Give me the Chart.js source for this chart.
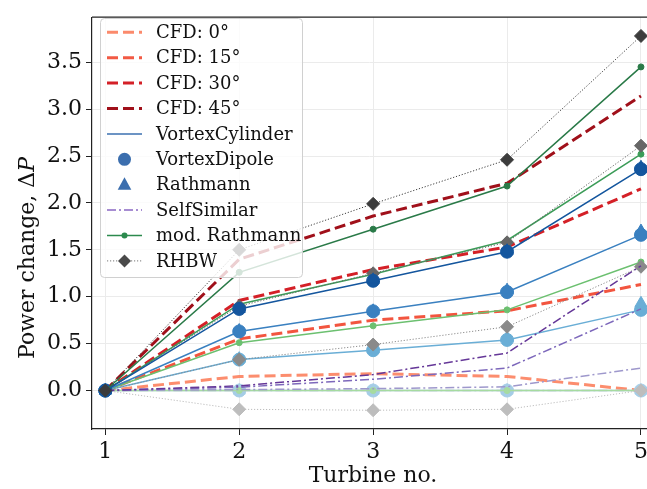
<!DOCTYPE html>
<html>
<head>
<meta charset="utf-8">
<script src="https://cdn.jsdelivr.net/npm/chart.js@4/dist/chart.umd.min.js"></script>
<style>
  html, body { margin: 0; padding: 0; overflow: hidden; background: #fff; }
</style>
</head>
<body>
<canvas id="chart" width="647" height="489"></canvas>
<script>
// turbine positions and tick labels
const turbines = [1, 2, 3, 4, 5];
const xTicks = [1, 2, 3, 4, 5];
const yTicks = [0.0, 0.5, 1.0, 1.5, 2.0, 2.5, 3.0, 3.5];
const yaws = [0, 15, 30, 45];

// one row per yaw angle (0, 15, 30, 45 deg), one value per turbine
const cfd = [
    [0, 0.15, 0.18, 0.15, 0.00],
    [0, 0.55, 0.75, 0.85, 1.13],
    [0, 0.96, 1.29, 1.53, 2.15],
    [0, 1.40, 1.86, 2.21, 3.14]
];
const vortexCylinder = [
    [0, 0, 0, 0, 0],
    [0, 0.33, 0.43, 0.54, 0.86],
    [0, 0.63, 0.845, 1.05, 1.66],
    [0, 0.87, 1.17, 1.48, 2.36]
];
const vortexDipole = [
    [0, 0, 0, 0, 0],
    [0, 0.33, 0.43, 0.54, 0.86],
    [0, 0.63, 0.845, 1.05, 1.66],
    [0, 0.87, 1.17, 1.48, 2.36]
];
const rathmann = [
    [0, 0, 0, 0, 0],
    [0, 0.34, 0.44, 0.56, 0.93],
    [0, 0.64, 0.85, 1.07, 1.70],
    [0, 0.87, 1.18, 1.49, 2.38]
];
const selfSimilar = [
    [0, 0, 0, 0, 0],
    [0, 0.01, 0.02, 0.04, 0.24],
    [0, 0.035, 0.12, 0.24, 0.87],
    [0, 0.05, 0.17, 0.40, 1.33]
];
const modRathmann = [
    [0, 0, 0, 0, 0],
    [0, 0.51, 0.69, 0.86, 1.37],
    [0, 0.92, 1.24, 1.60, 2.52],
    [0, 1.26, 1.72, 2.18, 3.45]
];
const rhbw = [
    [0, -0.20, -0.21, -0.20, 0.00],
    [0, 0.33, 0.49, 0.68, 1.32],
    [0, 0.90, 1.25, 1.58, 2.61],
    [0, 1.50, 1.99, 2.46, 3.78]
];

// colour shades per yaw (light -> dark)
const reds = ["#fc8d6e", "#f2553f", "#d42027", "#a0101a"];
const blues = ["#a6cde6", "#6aaed6", "#3a80c0", "#14569e"];
const purples = ["#bfbce0", "#9e98cc", "#7d68bb", "#653798"];
const greens = ["#a6dba0", "#6cc070", "#3c9c58", "#2a7a48"];
const greys = ["#bdbdbd", "#8a8a8a", "#666666", "#3c3c3c"];

const models = [
    {name: "CFD", values: cfd, colors: reds, width: 3, dash: [11, 5], showLine: true, pointStyle: "circle", radius: 0},
    {name: "VortexCylinder", values: vortexCylinder, colors: blues, width: 1.5, dash: [], showLine: true, pointStyle: "circle", radius: 0},
    {name: "VortexDipole", values: vortexDipole, colors: blues, width: 1.5, dash: [], showLine: false, pointStyle: "circle", radius: 6.5},
    {name: "Rathmann", values: rathmann, colors: blues, width: 1.5, dash: [], showLine: false, pointStyle: "triangle", radius: 7},
    {name: "SelfSimilar", values: selfSimilar, colors: purples, width: 1.5, dash: [9, 3, 2, 3], showLine: true, pointStyle: "circle", radius: 0},
    {name: "mod. Rathmann", values: modRathmann, colors: greens, width: 1.5, dash: [], showLine: true, pointStyle: "circle", radius: 3},
    {name: "RHBW", values: rhbw, colors: greys, width: 1, dash: [1.2, 1.8], showLine: true, pointStyle: "rectRot", radius: 6.5}
];

const datasets = [];
yaws.forEach((yaw, k) => {
    models.forEach(m => {
        datasets.push({
            label: m.name + " " + yaw,
            data: turbines.map((t, i) => ({x: t, y: m.values[k][i]})),
            borderColor: m.colors[k],
            backgroundColor: m.colors[k],
            borderWidth: m.width,
            borderDash: m.dash,
            showLine: m.showLine,
            pointStyle: m.pointStyle,
            pointRadius: m.radius,
            pointBorderWidth: 1,
            pointBorderColor: m.colors[k],
            pointBackgroundColor: m.colors[k],
            tension: 0,
            clip: 8
        });
    });
});
// later datasets drawn on top, like matplotlib
datasets.forEach((d, i) => d.order = datasets.length - i);

const legendItems = [
    {label: "CFD: 0°", type: "dash", color: "#fb8a6c"},
    {label: "CFD: 15°", type: "dash", color: "#f25a44"},
    {label: "CFD: 30°", type: "dash", color: "#d42027"},
    {label: "CFD: 45°", type: "dash", color: "#a0101a"},
    {label: "VortexCylinder", type: "line", color: "#3b70b0"},
    {label: "VortexDipole", type: "circle", color: "#3b6eae"},
    {label: "Rathmann", type: "triangle", color: "#3b6eae"},
    {label: "SelfSimilar", type: "dashdot", color: "#8a68c4"},
    {label: "mod. Rathmann", type: "lineDot", color: "#2c8a4e"},
    {label: "RHBW", type: "dotDiamond", color: "#4a4a4a"}
];

const FONT = '"DejaVu Serif", "Liberation Serif", serif';

function drawDiamond(c, x, y, r) {
    c.beginPath();
    c.moveTo(x, y - r); c.lineTo(x + r, y); c.lineTo(x, y + r); c.lineTo(x - r, y);
    c.closePath(); c.fill();
}

const extras = {
    id: "extras",
    afterDatasetsDraw(chart) {
        const c = chart.ctx;
        const area = chart.chartArea;
        c.save();
        // top spine
        c.strokeStyle = "#222";
        c.lineWidth = 1.2;
        c.beginPath();
        c.moveTo(area.left, area.top);
        c.lineTo(chart.width, area.top);
        c.stroke();

        // legend box
        const bx = 100.5, by = 18.5, bw = 202, bh = 259, r = 4;
        c.beginPath();
        c.moveTo(bx + r, by);
        c.arcTo(bx + bw, by, bx + bw, by + bh, r);
        c.arcTo(bx + bw, by + bh, bx, by + bh, r);
        c.arcTo(bx, by + bh, bx, by, r);
        c.arcTo(bx, by, bx + bw, by, r);
        c.closePath();
        c.fillStyle = "rgba(255,255,255,0.8)";
        c.fill();
        c.strokeStyle = "#d0d0d0";
        c.lineWidth = 1;
        c.stroke();

        const x0 = 107, x1 = 142, xm = 124.5;
        legendItems.forEach((it, i) => {
            const y = 32.3 + i * 25.4;
            c.strokeStyle = it.color;
            c.fillStyle = it.color;
            c.setLineDash([]);
            if (it.type === "dash" || it.type === "line" || it.type === "dashdot" || it.type === "lineDot" || it.type === "dotDiamond") {
                c.lineWidth = it.type === "dash" ? 3 : (it.type === "dotDiamond" ? 1 : 1.5);
                if (it.type === "dash") c.setLineDash([11, 5]);
                if (it.type === "dashdot") c.setLineDash([9, 3, 2, 3]);
                if (it.type === "dotDiamond") { c.setLineDash([1.2, 1.8]); c.strokeStyle = "#777"; }
                c.beginPath();
                c.moveTo(x0, y); c.lineTo(x1, y);
                c.stroke();
                c.setLineDash([]);
            }
            if (it.type === "circle") {
                c.beginPath(); c.arc(xm, y, 6.5, 0, Math.PI * 2); c.fill();
            }
            if (it.type === "lineDot") {
                c.beginPath(); c.arc(xm, y, 3, 0, Math.PI * 2); c.fill();
            }
            if (it.type === "triangle") {
                c.beginPath();
                c.moveTo(xm, y - 7.5); c.lineTo(xm + 6.8, y + 5); c.lineTo(xm - 6.8, y + 5);
                c.closePath(); c.fill();
            }
            if (it.type === "dotDiamond") {
                c.fillStyle = it.color;
                drawDiamond(c, xm, y, 6.5);
            }
            c.fillStyle = "#111";
            c.font = "18px " + FONT;
            c.textBaseline = "middle";
            c.textAlign = "left";
            c.fillText(it.label, 156, y + 1);
        });
        c.restore();
    },
    afterDraw(chart) {
        const c = chart.ctx;
        c.save();
        c.fillStyle = "#111";
        // x title, centred on the full (uncropped) axis
        c.font = "22px " + FONT;
        c.textAlign = "center";
        c.textBaseline = "alphabetic";
        c.fillText("Turbine no.", 373, 482);
        // y title with italic P
        c.translate(34, 258);
        c.rotate(-Math.PI / 2);
        const a = "Power change, Δ";
        c.font = "22px " + FONT;
        const wa = c.measureText(a).width;
        c.font = "italic 22px " + FONT;
        const wb = c.measureText("P").width;
        const start = -(wa + wb) / 2;
        c.textAlign = "left";
        c.font = "22px " + FONT;
        c.fillText(a, start, 0);
        c.font = "italic 22px " + FONT;
        c.fillText("P", start + wa, 0);
        c.restore();
    }
};

new Chart(document.getElementById("chart"), {
    type: "line",
    data: {datasets: datasets},
    options: {
        responsive: false,
        animation: false,
        devicePixelRatio: 1,
        // the axes run to the right edge of the picture, as in the cropped original
        layout: {autoPadding: false, padding: {top: 9, right: 0, left: 0, bottom: 0}},
        plugins: {legend: {display: false}, tooltip: {enabled: false}},
        scales: {
            x: {
                type: "linear",
                min: 0.9007,
                max: 5.045,
                afterBuildTicks: s => { s.ticks = xTicks.map(v => ({value: v})); },
                afterFit: s => { s.height = 60; s.paddingRight = 0; s.paddingLeft = 0; },
                grid: {color: "#ebebeb", lineWidth: 1, tickColor: "#222", tickLength: 6, tickWidth: 1},
                border: {display: true, color: "#222", width: 1.2},
                ticks: {color: "#111", font: {family: FONT, size: 22}, padding: 4, maxRotation: 0,
                    callback: v => String(v)}
            },
            y: {
                type: "linear",
                min: -0.41,
                max: 3.98,
                afterBuildTicks: s => { s.ticks = yTicks.map(v => ({value: v})); },
                afterFit: s => { s.width = 92; },
                grid: {color: "#ebebeb", lineWidth: 1, tickColor: "#222", tickLength: 6, tickWidth: 1},
                border: {display: true, color: "#222", width: 1.2},
                ticks: {color: "#111", font: {family: FONT, size: 22}, padding: 4,
                    callback: v => Number(v).toFixed(1)}
            }
        }
    },
    plugins: [extras]
});
</script>
</body>
</html>
